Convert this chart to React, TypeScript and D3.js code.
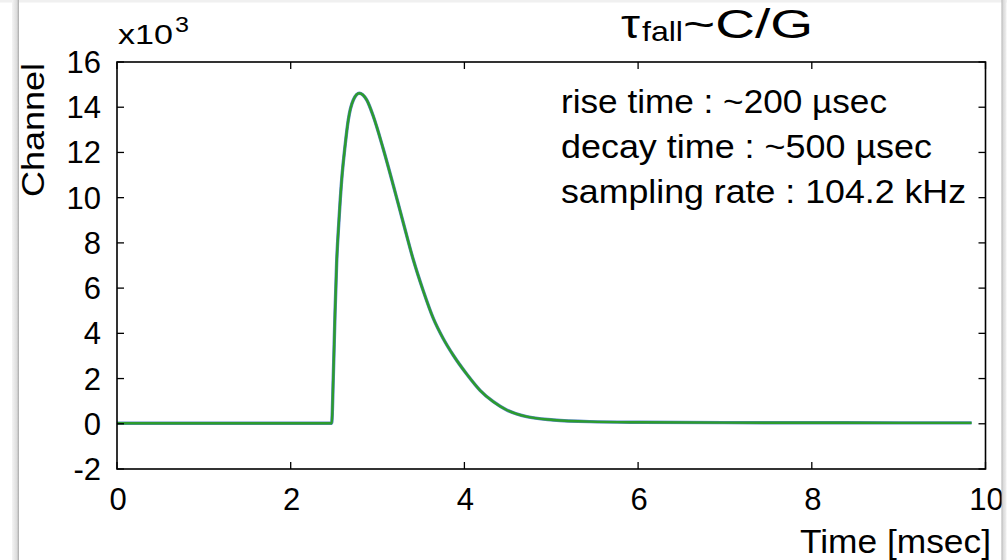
import React from "react";
import * as d3 from "d3";

// Time [msec]
const times: number[] = [
  0, 1.0, 2.0, 2.472, 2.49, 2.51, 2.529, 2.556, 2.587, 2.625, 2.663, 2.721, 2.79,
  2.875, 2.951, 3.066, 3.181, 3.297, 3.412, 3.527, 3.642, 3.757, 3.872, 4.026,
  4.18, 4.333, 4.487, 4.717, 5.024, 5.446, 6.022, 7.0, 8.0, 9.0, 9.84,
];
// Channel (raw counts)
const channel: number[] = [
  25, 25, 25, 25, 2000, 4850, 7112, 9013, 10783, 12256, 13437, 14321, 14617,
  14321, 13600, 12150, 10550, 8880, 7250, 5870, 4660, 3760, 3030, 2200,
  1480, 975, 610, 314, 168, 93, 66, 50, 45, 40, 40,
];

const xTicks: number[] = [0, 2, 4, 6, 8, 10];
const yTicks: number[] = [-2000, 0, 2000, 4000, 6000, 8000, 10000, 12000, 14000, 16000];
const infoLines: string[] = [
  "rise time : ~200 \u00b5sec",
  "decay time : ~500 \u00b5sec",
  "sampling rate : 104.2 kHz",
];
const infoWidths = [326, 371, 405];

const W = 1007;
const H = 560;
const left = 117;
const right = 985.5;
const top = 62;
const bottom = 469;
const FONT = "'Liberation Sans', Arial, Helvetica, sans-serif";

export default function App() {
  const x = d3.scaleLinear().domain([0, 10]).range([left, right]);
  const y = d3.scaleLinear().domain([-2000, 16000]).range([bottom, top]);
  const pts = times.map((t, i) => [t, channel[i]] as [number, number]);
  const line = d3
    .line<[number, number]>()
    .x((d) => x(d[0]))
    .y((d) => y(d[1]))
    .curve(d3.curveMonotoneX);
  const path = line(pts) || "";
  const tickLen = 7;

  return (
    <svg
      width={W}
      height={H}
      style={{ position: "absolute", left: 0, top: 0, background: "#fff" }}
      fontFamily={FONT}
    >
      <defs>
        <clipPath id="plotclip">
          <rect x={left} y={top} width={right - left} height={bottom - top} />
        </clipPath>
        <linearGradient id="lbar" x1="0" x2="1" y1="0" y2="0">
          <stop offset="0" stopColor="#f4f4f4" />
          <stop offset="0.7" stopColor="#dcdcdc" />
          <stop offset="1" stopColor="#a8a8a8" />
        </linearGradient>
        <linearGradient id="rbar" x1="0" x2="1" y1="0" y2="0">
          <stop offset="0" stopColor="#b0b0b0" />
          <stop offset="0.3" stopColor="#d8d8d8" />
          <stop offset="1" stopColor="#f0f0f0" />
        </linearGradient>
      </defs>

      {/* data lines */}
      <g clipPath="url(#plotclip)">
        <path d={path} fill="none" stroke="#5b86c4" strokeWidth={3.4} />
        <path d={path} fill="none" stroke="#2c9c2c" strokeWidth={2.4} />
      </g>

      {/* axes box */}
      <rect
        x={left}
        y={top}
        width={right - left}
        height={bottom - top}
        fill="none"
        stroke="#000"
        strokeWidth={1.6}
      />

      {/* x ticks */}
      {xTicks.map((t) => (
        <g key={"x" + t}>
          <line x1={x(t)} x2={x(t)} y1={bottom} y2={bottom - tickLen} stroke="#000" strokeWidth={1.3} />
          <line x1={x(t)} x2={x(t)} y1={top} y2={top + tickLen} stroke="#000" strokeWidth={1.3} />
          <text x={x(t) + 1} y={510} fontSize={31} textAnchor="middle" fill="#000">
            {t}
          </text>
        </g>
      ))}

      {/* y ticks */}
      {yTicks.map((v) => (
        <g key={"y" + v}>
          <line x1={left} x2={left + tickLen} y1={y(v)} y2={y(v)} stroke="#000" strokeWidth={1.3} />
          <line x1={right} x2={right - tickLen} y1={y(v)} y2={y(v)} stroke="#000" strokeWidth={1.3} />
          <text x={101} y={y(v) + 11} fontSize={31} textAnchor="end" fill="#000">
            {v / 1000}
          </text>
        </g>
      ))}

      {/* exponent */}
      <text x={118} y={44} fontSize={28} fill="#000" textLength={55} lengthAdjust="spacingAndGlyphs">
        x10
      </text>
      <text x={175} y={32} fontSize={22} fill="#000" textLength={14} lengthAdjust="spacingAndGlyphs">
        3
      </text>

      {/* axis labels */}
      <text
        transform="translate(44,130) rotate(-90)"
        fontSize={32}
        textAnchor="middle"
        fill="#000"
        textLength={134}
        lengthAdjust="spacingAndGlyphs"
      >
        Channel
      </text>
      <text
        x={991}
        y={553}
        fontSize={33}
        textAnchor="end"
        fill="#000"
        textLength={191}
        lengthAdjust="spacingAndGlyphs"
      >
        Time [msec]
      </text>

      {/* title */}
      <text x={621} y={38} fontSize={40} fill="#000" textLength={19} lengthAdjust="spacingAndGlyphs">
        {"\u03c4"}
      </text>
      <text x={642} y={40.5} fontSize={28} fill="#000" textLength={41} lengthAdjust="spacingAndGlyphs">
        fall
      </text>
      <text x={683} y={38} fontSize={40} fill="#000" textLength={130} lengthAdjust="spacingAndGlyphs">
        ~C/G
      </text>

      {/* info text */}
      {infoLines.map((s, i) => (
        <text
          key={s}
          x={561}
          y={113 + i * 44.8}
          fontSize={34}
          fill="#000"
          textLength={infoWidths[i]}
          lengthAdjust="spacingAndGlyphs"
        >
          {s}
        </text>
      ))}

      {/* slide frame */}
      <rect x={0} y={0} width={W} height={2.5} fill="#f0f0f0" />
      <rect x={12} y={0} width={7} height={H} fill="url(#lbar)" />
      <rect x={1001.5} y={0} width={5} height={H} fill="url(#rbar)" />
    </svg>
  );
}
